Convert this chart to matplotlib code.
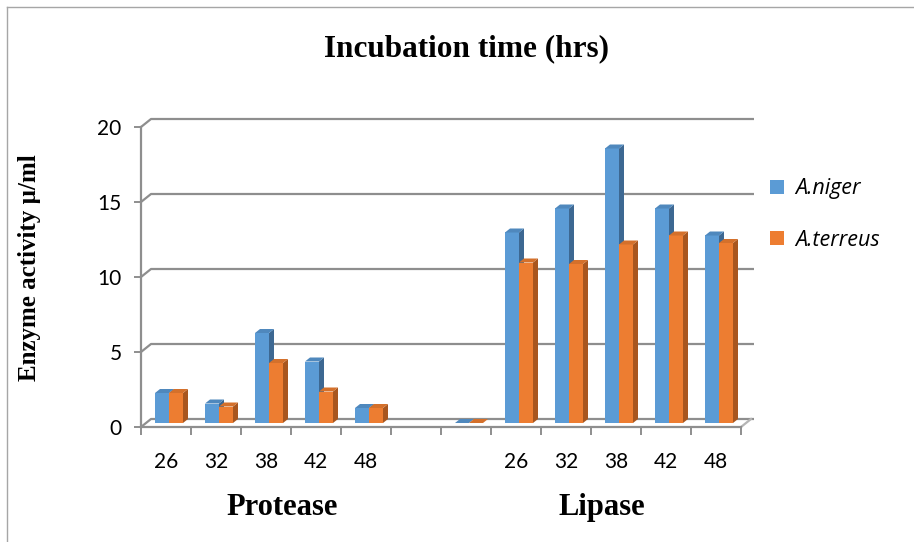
import numpy as np
import matplotlib
matplotlib.use("Agg")
import matplotlib.pyplot as plt
from matplotlib.patches import Polygon

# ---- data ----
times = ["26", "32", "38", "42", "48"]
protease_niger = [2.0, 1.3, 6.0, 4.1, 1.0]
protease_terreus = [2.0, 1.1, 4.0, 2.1, 1.0]
lipase_niger = [12.7, 14.3, 18.3, 14.3, 12.5]
lipase_terreus = [10.7, 10.6, 11.9, 12.5, 12.0]
gap_values = [np.nan, 0.0]          # empty slot + zero slot between groups
groups = ["Protease", "Lipase"]
series = ["A.niger", "A.terreus"]
yticks = [0, 5, 10, 15, 20]

labels = times + ["", ""] + times
niger = protease_niger + gap_values + lipase_niger
terreus = protease_terreus + gap_values + lipase_terreus

BLUE, BLUE_TOP, BLUE_SIDE = "#5b9bd5", "#4f88bd", "#3d6892"
ORANGE, ORANGE_TOP, ORANGE_SIDE = "#ed7d31", "#d4702b", "#a8561f"
GRID = "#8e8e8e"
SERIF = "Liberation Serif"
SANS = "Lato"

W, H = 914, 542
fig = plt.figure(figsize=(W / 100, H / 100), dpi=100)
ax = fig.add_axes([141 / W, 115 / H, 600 / W, 300 / H])
n = len(labels)
ax.set_xlim(0, n)
ax.set_ylim(0, 20)

px_x = n / 600.0     # data units per pixel
px_y = 20 / 300.0
# back wall / floor offsets
wall_dx, wall_dy = 10 * px_x, 8 * px_y
# bar depth
bar_dx, bar_dy = 5 * px_x, 4 * px_y
base = bar_dy

# back wall gridlines with the short diagonal to the front axis
for v in yticks:
    ax.plot([0, wall_dx, n + 0.26], [v, v + wall_dy, v + wall_dy],
            color=GRID, lw=1.6, clip_on=False, zorder=1, solid_capstyle="butt")
ax.plot([n, n + wall_dx], [0, wall_dy], color="#b5b5b5", lw=1.6, clip_on=False, zorder=1)

x = np.arange(n)
w = 0.28
idx = ~np.isnan(np.array(niger))

def draw_3d(lefts, vals, face, top, side, label):
    ax.bar(lefts[idx], np.array(vals)[idx], w, bottom=base, align="edge",
           color=face, zorder=3, label=label, linewidth=0)
    for l, v in zip(lefts[idx], np.array(vals)[idx]):
        yt = base + v
        ax.add_patch(Polygon([(l + w, base), (l + w + bar_dx, base + bar_dy),
                              (l + w + bar_dx, yt + bar_dy), (l + w, yt)],
                             closed=True, color=side, lw=0, zorder=3))
        ax.add_patch(Polygon([(l, yt), (l + bar_dx, yt + bar_dy),
                              (l + w + bar_dx, yt + bar_dy), (l + w, yt)],
                             closed=True, color=top, lw=0, zorder=3))

draw_3d(x + 0.28, niger, BLUE, BLUE_TOP, BLUE_SIDE, series[0])
draw_3d(x + 0.56, terreus, ORANGE, ORANGE_TOP, ORANGE_SIDE, series[1])

# axes styling
for s in ["top", "right"]:
    ax.spines[s].set_visible(False)
for s in ["left", "bottom"]:
    ax.spines[s].set_color(GRID)
    ax.spines[s].set_linewidth(1.6)
ax.set_yticks(yticks)
ax.tick_params(axis="y", length=5, width=1.4, color=GRID, pad=9,
               labelsize=15, labelcolor="black")
ax.set_xticks(np.arange(n + 1))
ax.set_xticklabels([])
ax.tick_params(axis="x", which="major", length=6, width=1.4, color=GRID)
ax.set_xticks(x + 0.5, minor=True)
ax.set_xticklabels(labels, minor=True)
ax.tick_params(axis="x", which="minor", length=0, pad=18, labelsize=15)
for t in ax.get_xticklabels(minor=True) + ax.get_yticklabels():
    t.set_fontfamily(SANS)

# group labels under the ticks
ax.text(2.82, -5.35, groups[0], ha="center", va="center", fontsize=22,
        fontweight="bold", family=SERIF, clip_on=False)
ax.text(9.22, -5.35, groups[1], ha="center", va="center", fontsize=22,
        fontweight="bold", family=SERIF, clip_on=False)

fig.text(467 / W, 1 - 49 / H, "Incubation time (hrs)", ha="center", va="center",
         fontsize=22.5, fontweight="bold", family=SERIF)
fig.text(30 / W, 1 - 268 / H, "Enzyme activity µ/ml", ha="center", va="center",
         rotation=90, fontsize=18, fontweight="bold", family=SERIF)

leg = fig.legend(loc="upper left", bbox_to_anchor=(751 / W, 1 - 159 / H),
                 frameon=False, handlelength=0.65, handleheight=0.65,
                 handletextpad=0.5, labelspacing=1.4,
                 prop={"family": "Open Sans", "style": "italic", "size": 15.5})

# chart-area border
fig.add_artist(plt.Line2D([7 / W, 1], [1 - 7 / H, 1 - 7 / H], color="#a6a6a6", lw=1))
fig.add_artist(plt.Line2D([7 / W, 7 / W], [0, 1 - 7 / H], color="#a6a6a6", lw=1))

fig.savefig("out.png", dpi=100, facecolor="white")
